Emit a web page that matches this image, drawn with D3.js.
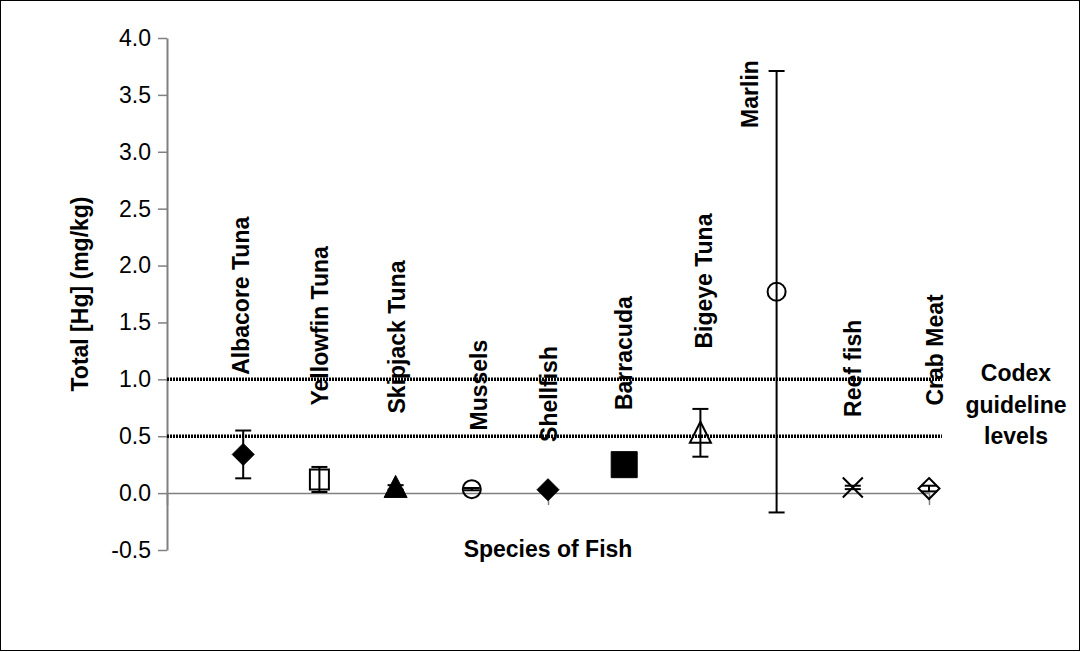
<!DOCTYPE html>
<html>
<head>
<meta charset="utf-8">
<script src="https://cdn.jsdelivr.net/npm/d3@7"></script>
<style>
  html, body { margin: 0; padding: 0; background: #fff; }
  svg { display: block; }
  text { font-family: "Liberation Sans", Arial, sans-serif; }
</style>
</head>
<body>
<svg id="chart" width="1081" height="652"></svg>
<script>
// Mean total mercury per species and the error-bar half width (mg/kg)
const categories = ["Albacore Tuna", "Yellowfin Tuna", "Skipjack Tuna", "Mussels", "Shellfish",
                    "Barracuda", "Bigeye Tuna", "Marlin", "Reef fish", "Crab Meat"];
const meanHg = [0.34, 0.12, 0.05, 0.035, 0.03, 0.25, 0.53, 1.77, 0.05, 0.04];
const errHg  = [0.21, 0.11, 0.02, 0.01, 0.01, 0.02, 0.21, 1.94, 0.015, 0.025];

// Codex guideline levels (mg/kg)
const codexLevels = [0.5, 1.0];

// Value axis ticks
const yTicks = [-0.5, 0.0, 0.5, 1.0, 1.5, 2.0, 2.5, 3.0, 3.5, 4.0];

// Marker glyph per species
const markerKind = ["diamond", "squareOpen", "triangle", "circleOpen", "diamond",
                    "square", "triangleOpen", "circleOpen", "star", "diamondOpen"];

// Where each rotated species name ends (value units) and its sideways nudge (category units)
const labelBase  = [1.04, 0.77, 0.70, 0.55, 0.45, 0.73, 1.27, 3.21, 0.67, 0.77];
const labelNudge = [-0.03, 0.01, 0.02, 0.09, 0.01, 0.0, 0.04, -0.35, 0.0, 0.07];

const svg = d3.select("#chart");
const W = 1081, H = 652;

svg.append("rect").attr("x", 0.5).attr("y", 0.5)
   .attr("width", W - 2).attr("height", H - 2)
   .attr("fill", "#fff").attr("stroke", "#000").attr("stroke-width", 1);

const x = d3.scaleLinear().domain([0, 10]).range([167, 929]);
const y = d3.scaleLinear().domain([-0.5, 4.0]).range([550, 38]);

const FONT = 23;
const axisGrey = "#808080";

// Y axis
const yAxis = svg.append("g")
  .attr("transform", `translate(${x(0)},0)`)
  .call(d3.axisLeft(y).tickValues(yTicks).tickSize(9).tickSizeOuter(0).tickPadding(7)
          .tickFormat(d => d.toFixed(1)));
yAxis.select(".domain").attr("stroke", axisGrey).attr("stroke-width", 2);
yAxis.selectAll(".tick line").attr("stroke", axisGrey).attr("stroke-width", 1.5);
yAxis.selectAll(".tick text").attr("fill", "#000")
  .style("font-size", FONT + "px").style("font-family", "'Liberation Sans', Arial, sans-serif");

// X axis along zero, no labels
const xAxis = svg.append("g")
  .attr("transform", `translate(0,${y(0)})`)
  .call(d3.axisBottom(x).tickValues([0, 5, 10]).tickSize(12).tickSizeOuter(0).tickFormat(""));
xAxis.select(".domain").attr("stroke", axisGrey).attr("stroke-width", 1.5);
xAxis.selectAll(".tick line").attr("stroke", axisGrey).attr("stroke-width", 1.5);

// Codex guideline lines
svg.append("g").selectAll("line").data(codexLevels).join("line")
  .attr("x1", x(0)).attr("x2", x(10.17))
  .attr("y1", d => y(d)).attr("y2", d => y(d))
  .attr("stroke", "#000").attr("stroke-width", 3.5)
  .attr("stroke-dasharray", "2 1");

// Error bars
const capHalf = 8;
const eb = svg.append("g").attr("stroke", "#000").attr("stroke-width", 2);
categories.forEach((c, i) => {
  const cx = x(i + 1);
  const top = y(meanHg[i] + errHg[i]), bot = y(meanHg[i] - errHg[i]);
  eb.append("line").attr("x1", cx).attr("x2", cx).attr("y1", top).attr("y2", bot);
  eb.append("line").attr("x1", cx - capHalf).attr("x2", cx + capHalf).attr("y1", top).attr("y2", top);
  eb.append("line").attr("x1", cx - capHalf).attr("x2", cx + capHalf).attr("y1", bot).attr("y2", bot);
});

// Markers
const marks = svg.append("g");
function drawMarker(kind, cx, cy) {
  const g = marks.append("g").attr("transform", `translate(${cx},${cy})`);
  const solid = {fill: "#000", stroke: "#000", sw: 1};
  const hollow = {fill: "none", stroke: "#000", sw: 2};
  let p, st;
  switch (kind) {
    case "diamond": p = "M0,-11L11,0L0,11L-11,0Z"; st = solid; break;
    case "diamondOpen": p = "M0,-10.5L10.5,0L0,10.5L-10.5,0Z"; st = hollow; break;
    case "square": p = "M-13,-13H13V13H-13Z"; st = solid; break;
    case "squareOpen": p = "M-9.5,-10H9.5V10H-9.5Z"; st = hollow; break;
    case "triangle": p = "M0,-12L11.5,10L-11.5,10Z"; st = solid; break;
    case "triangleOpen": p = "M0,-11L10.5,10L-10.5,10Z"; st = hollow; break;
    case "circleOpen":
      g.append("circle").attr("r", 9).attr("fill", "none").attr("stroke", "#000").attr("stroke-width", 2);
      return;
    case "star": p = "M-10,-10L10,10M-10,10L10,-10"; st = hollow; break;
  }
  g.append("path").attr("d", p).attr("fill", st.fill).attr("stroke", st.stroke)
   .attr("stroke-width", st.sw).attr("stroke-linejoin", "miter");
}
categories.forEach((c, i) => drawMarker(markerKind[i], x(i + 1), y(meanHg[i])));

// Rotated species names
svg.append("g").selectAll("text").data(categories).join("text")
  .attr("transform", (d, i) => `translate(${x(i + 1 + labelNudge[i])},${y(labelBase[i])}) rotate(-90)`)
  .attr("text-anchor", "start")
  .attr("dy", "0.36em")
  .style("font-size", FONT + "px").style("font-weight", "bold")
  .text(d => d);

// Axis titles
svg.append("text")
  .attr("transform", `translate(80,${(y(-0.5) + y(4)) / 2}) rotate(-90)`)
  .attr("text-anchor", "middle").attr("dy", "0.36em")
  .style("font-size", FONT + "px").style("font-weight", "bold")
  .text("Total [Hg] (mg/kg)");

svg.append("text")
  .attr("x", (x(0) + x(10)) / 2).attr("y", 557)
  .attr("text-anchor", "middle")
  .style("font-size", FONT + "px").style("font-weight", "bold")
  .text("Species of Fish");

// Side note for the guideline lines
svg.append("text")
  .attr("x", 1016).attr("y", 381)
  .attr("text-anchor", "middle")
  .style("font-size", FONT + "px").style("font-weight", "bold")
  .selectAll("tspan").data(["Codex", "guideline", "levels"]).join("tspan")
  .attr("x", 1016).attr("dy", (d, i) => i === 0 ? 0 : 31.5)
  .text(d => d);
</script>
</body>
</html>
